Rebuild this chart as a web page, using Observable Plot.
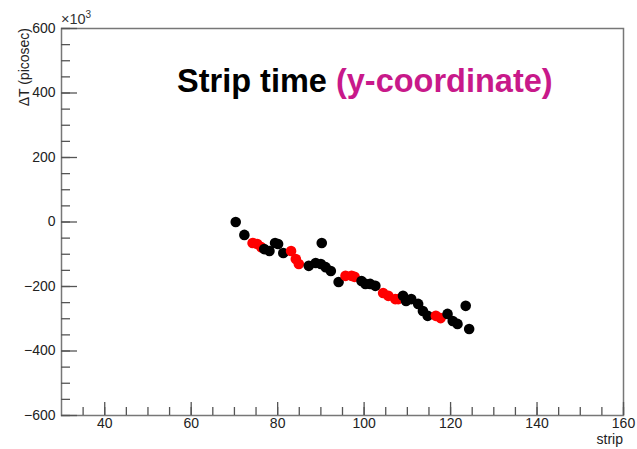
<!DOCTYPE html>
<html>
<head>
<meta charset="utf-8">
<script src="https://cdn.jsdelivr.net/npm/d3@7"></script>
<script src="https://cdn.jsdelivr.net/npm/@observablehq/plot@0.6"></script>
<style>
  html, body { margin: 0; padding: 0; background: #fff; }
  #chart { position: relative; width: 637px; height: 449px; }
</style>
</head>
<body>
<div id="chart"></div>
<script>
// strip number (x) and ΔT in units of 10^3 picosec (y), with marker colour group
const strip = [70.3, 72.3, 74.2, 75.3, 76.2, 76.9, 78.1, 79.4, 80.1, 81.3,
               83.1, 84.2, 84.9, 87.2, 88.8, 90.0, 90.2, 91.1, 92.3, 94.1,
               95.7, 97.1, 97.8, 99.4, 100.3, 101.4, 102.6, 104.4, 105.6, 107.2,
               107.9, 109.0, 109.7, 110.9, 112.5, 113.6, 114.7, 116.6, 117.7, 119.3,
               120.5, 121.6, 123.5, 124.3];
const deltaT = [0, -40, -65, -68, -78, -84, -90, -65, -68, -96,
                -90, -115, -130, -136, -127, -130, -65, -140, -152, -186,
                -167, -167, -170, -183, -192, -192, -198, -220, -229, -239,
                -239, -229, -245, -239, -254, -276, -291, -291, -298, -285,
                -307, -316, -260, -332];
const group = ["black", "black", "red", "red", "red", "black", "black", "black", "black", "black",
               "red", "red", "red", "black", "black", "black", "black", "black", "black", "black",
               "red", "red", "red", "black", "black", "black", "black", "red", "red", "red",
               "red", "black", "black", "black", "black", "black", "black", "red", "red", "black",
               "black", "black", "black", "black"];

const xMajor = [40, 60, 80, 100, 120, 140, 160];
const xMinor = d3.range(35, 161, 5);
const yMajor = [-600, -400, -200, 0, 200, 400, 600];
const yMinor = d3.range(-600, 601, 50);

const title1 = "Strip time ";
const title2 = "(y-coordinate)";
const yTitle = "ΔT (picosec)";
const xTitle = "strip";

const points = strip.map((x, i) => ({x, y: deltaT[i], g: group[i]}));

const W = 637, H = 449, mL = 61, mR = 14, mT = 28, mB = 34;
const fw = W - mL - mR, fh = H - mT - mB;
const axisColor = "#555";

const plot = Plot.plot({
  width: W, height: H,
  marginLeft: mL, marginRight: mR, marginTop: mT, marginBottom: mB,
  style: {fontFamily: "'Liberation Sans', Arial, sans-serif", fontSize: "14px", color: "#222", background: "#fff"},
  x: {domain: [30, 160]},
  y: {domain: [-600, 600]},
  color: {domain: ["black", "red"], range: ["#050505", "#ec1318"]},
  marks: [
    Plot.frame({stroke: "#777", strokeWidth: 1.5}),
    Plot.axisX({ticks: xMajor, tickSize: 0, tickPadding: 3, label: null, fill: "#222"}),
    Plot.axisY({ticks: yMajor, tickSize: 0, tickPadding: 6, label: null, fill: "#222"}),
    Plot.tickX(xMinor, {x: d => d, insetTop: fh - 8, stroke: axisColor, strokeWidth: 1.3}),
    Plot.tickX(xMajor, {x: d => d, insetTop: fh - 13, stroke: axisColor, strokeWidth: 1.3}),
    Plot.tickY(yMinor, {y: d => d, insetRight: fw - 9, stroke: axisColor, strokeWidth: 1.3}),
    Plot.tickY(yMajor, {y: d => d, insetRight: fw - 16, stroke: axisColor, strokeWidth: 1.3}),
    Plot.dot(points, {x: "x", y: "y", fill: "g", r: 5.3, stroke: null})
  ]
});
document.getElementById("chart").appendChild(plot);

const svg = d3.select(plot);
const font = "'Liberation Sans', Arial, sans-serif";

// title inside the frame
const t = svg.append("text")
  .attr("x", 177).attr("y", 92)
  .attr("text-anchor", "start")
  .attr("font-family", font).attr("font-size", 32.5).attr("font-weight", "bold");
t.append("tspan").attr("fill", "#000").text(title1);
t.append("tspan").attr("fill", "#c8198a").text(title2);

// y-axis title, rotated, aligned to top
svg.append("text")
  .attr("transform", `translate(29,${mT}) rotate(-90)`)
  .attr("text-anchor", "end")
  .attr("font-family", font).attr("font-size", 14).attr("fill", "#222")
  .text(yTitle);

// exponent ×10^3
const e = svg.append("text")
  .attr("x", mL).attr("y", 24)
  .attr("text-anchor", "start")
  .attr("font-family", font).attr("font-size", 14.5).attr("fill", "#333");
e.append("tspan").text("×10");
e.append("tspan").attr("font-size", 10).attr("dy", -6).text("3");

// x-axis title, right aligned
svg.append("text")
  .attr("x", W - mR).attr("y", 444)
  .attr("text-anchor", "end")
  .attr("font-family", font).attr("font-size", 14).attr("fill", "#222")
  .text(xTitle);
</script>
</body>
</html>
